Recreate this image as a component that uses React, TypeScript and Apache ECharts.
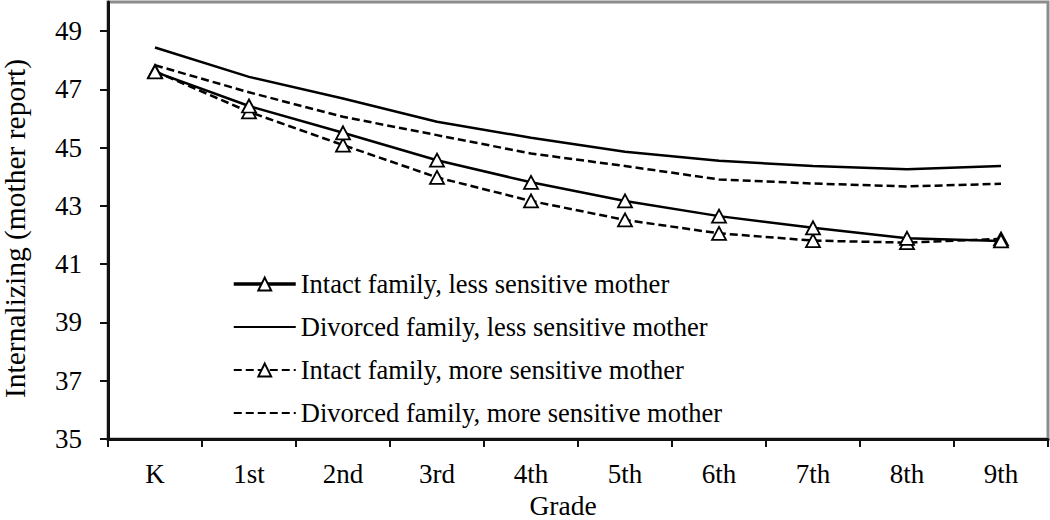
import React, { useEffect, useRef } from "react";
import * as echarts from "echarts";

const grades = ["K", "1st", "2nd", "3rd", "4th", "5th", "6th", "7th", "8th", "9th"];
const yTicks = [35, 37, 39, 41, 43, 45, 47, 49];

const intactLess = [47.6, 46.43, 45.51, 44.57, 43.81, 43.17, 42.65, 42.25, 41.89, 41.8];
const divorcedLess = [48.44, 47.43, 46.69, 45.89, 45.34, 44.86, 44.55, 44.37, 44.26, 44.37];
const intactMore = [47.62, 46.23, 45.09, 43.98, 43.17, 42.52, 42.06, 41.81, 41.74, 41.87];
const divorcedMore = [47.83, 46.9, 46.06, 45.43, 44.8, 44.37, 43.91, 43.77, 43.67, 43.76];

const seriesNames = [
  "Intact family, less sensitive mother",
  "Divorced family, less sensitive mother",
  "Intact family, more sensitive mother",
  "Divorced family, more sensitive mother",
];

const FONT = "'Liberation Serif', 'Times New Roman', serif";
const DASH = [8, 4];

export default function App() {
  const ref = useRef<HTMLDivElement>(null);

  useEffect(() => {
    document.body.style.margin = "0";
    if (!ref.current) return;
    const chart = echarts.init(ref.current, null, { renderer: "svg" });

    const triangle = {
      symbol: "triangle",
      symbolSize: [14, 13],
      showSymbol: true,
      itemStyle: { color: "#ffffff", borderColor: "#000000", borderWidth: 1.8 },
    };
    const hiddenSymbol = { color: "rgba(0,0,0,0)", borderWidth: 0, borderColor: "rgba(0,0,0,0)", opacity: 0 };

    chart.setOption({
      animation: false,
      backgroundColor: "#ffffff",
      textStyle: { fontFamily: FONT, color: "#000" },
      grid: {
        left: 108,
        right: 2,
        top: 2,
        bottom: 81,
        containLabel: false,
        outerBoundsMode: "none",
        show: true,
        borderColor: "#8c8c8c",
        borderWidth: 3,
        backgroundColor: "transparent",
      },
      legend: {
        orient: "vertical",
        left: 227,
        top: 265,
        itemWidth: 62,
        itemHeight: 16,
        itemGap: 15,
        textStyle: { fontFamily: FONT, fontSize: 26.5, color: "#000", lineHeight: 28 },
        data: [
          { name: seriesNames[0], lineStyle: { width: 3.5 } },
          { name: seriesNames[1], itemStyle: hiddenSymbol },
          { name: seriesNames[2] },
          { name: seriesNames[3], itemStyle: hiddenSymbol },
        ],
      },
      xAxis: {
        type: "category",
        data: grades,
        boundaryGap: true,
        name: "Grade",
        nameLocation: "middle",
        nameGap: 55,
        nameTextStyle: { fontFamily: FONT, fontSize: 27.5, lineHeight: 20, color: "#000", padding: [0, 30, 0, 0] },
        axisLine: { lineStyle: { color: "#111", width: 3 } },
        axisTick: { show: true, length: 8, lineStyle: { color: "#111", width: 2 } },
        axisLabel: { fontFamily: FONT, fontSize: 27, color: "#000", margin: 21 },
        splitLine: { show: false },
      },
      yAxis: {
        type: "value",
        min: 35,
        max: 50,
        name: "Internalizing (mother report)",
        nameLocation: "middle",
        nameGap: 82,
        nameTextStyle: { fontFamily: FONT, fontSize: 29.5, lineHeight: 22, color: "#000", padding: [0, 16, 0, 0] },
        axisLine: { show: true, lineStyle: { color: "#111", width: 3 } },
        axisTick: { show: true, length: 8, customValues: yTicks, lineStyle: { color: "#111", width: 2 } },
        axisLabel: { fontFamily: FONT, fontSize: 27, color: "#000", margin: 26, customValues: yTicks },
        splitLine: { show: false },
      },
      series: [
        {
          name: seriesNames[0],
          type: "line",
          data: intactLess,
          ...triangle,
          lineStyle: { color: "#000", width: 2.5, type: "solid" },
          z: 4,
        },
        {
          name: seriesNames[1],
          type: "line",
          data: divorcedLess,
          symbol: "none",
          itemStyle: { color: "#000" },
          lineStyle: { color: "#000", width: 2.5, type: "solid" },
          z: 2,
        },
        {
          name: seriesNames[2],
          type: "line",
          data: intactMore,
          ...triangle,
          lineStyle: { color: "#000", width: 2.5, type: DASH },
          z: 3,
        },
        {
          name: seriesNames[3],
          type: "line",
          data: divorcedMore,
          symbol: "none",
          itemStyle: { color: "#000" },
          lineStyle: { color: "#000", width: 2.5, type: DASH },
          z: 2,
        },
      ],
    });

    return () => chart.dispose();
  }, []);

  return <div ref={ref} style={{ width: 1050, height: 520 }} />;
}
